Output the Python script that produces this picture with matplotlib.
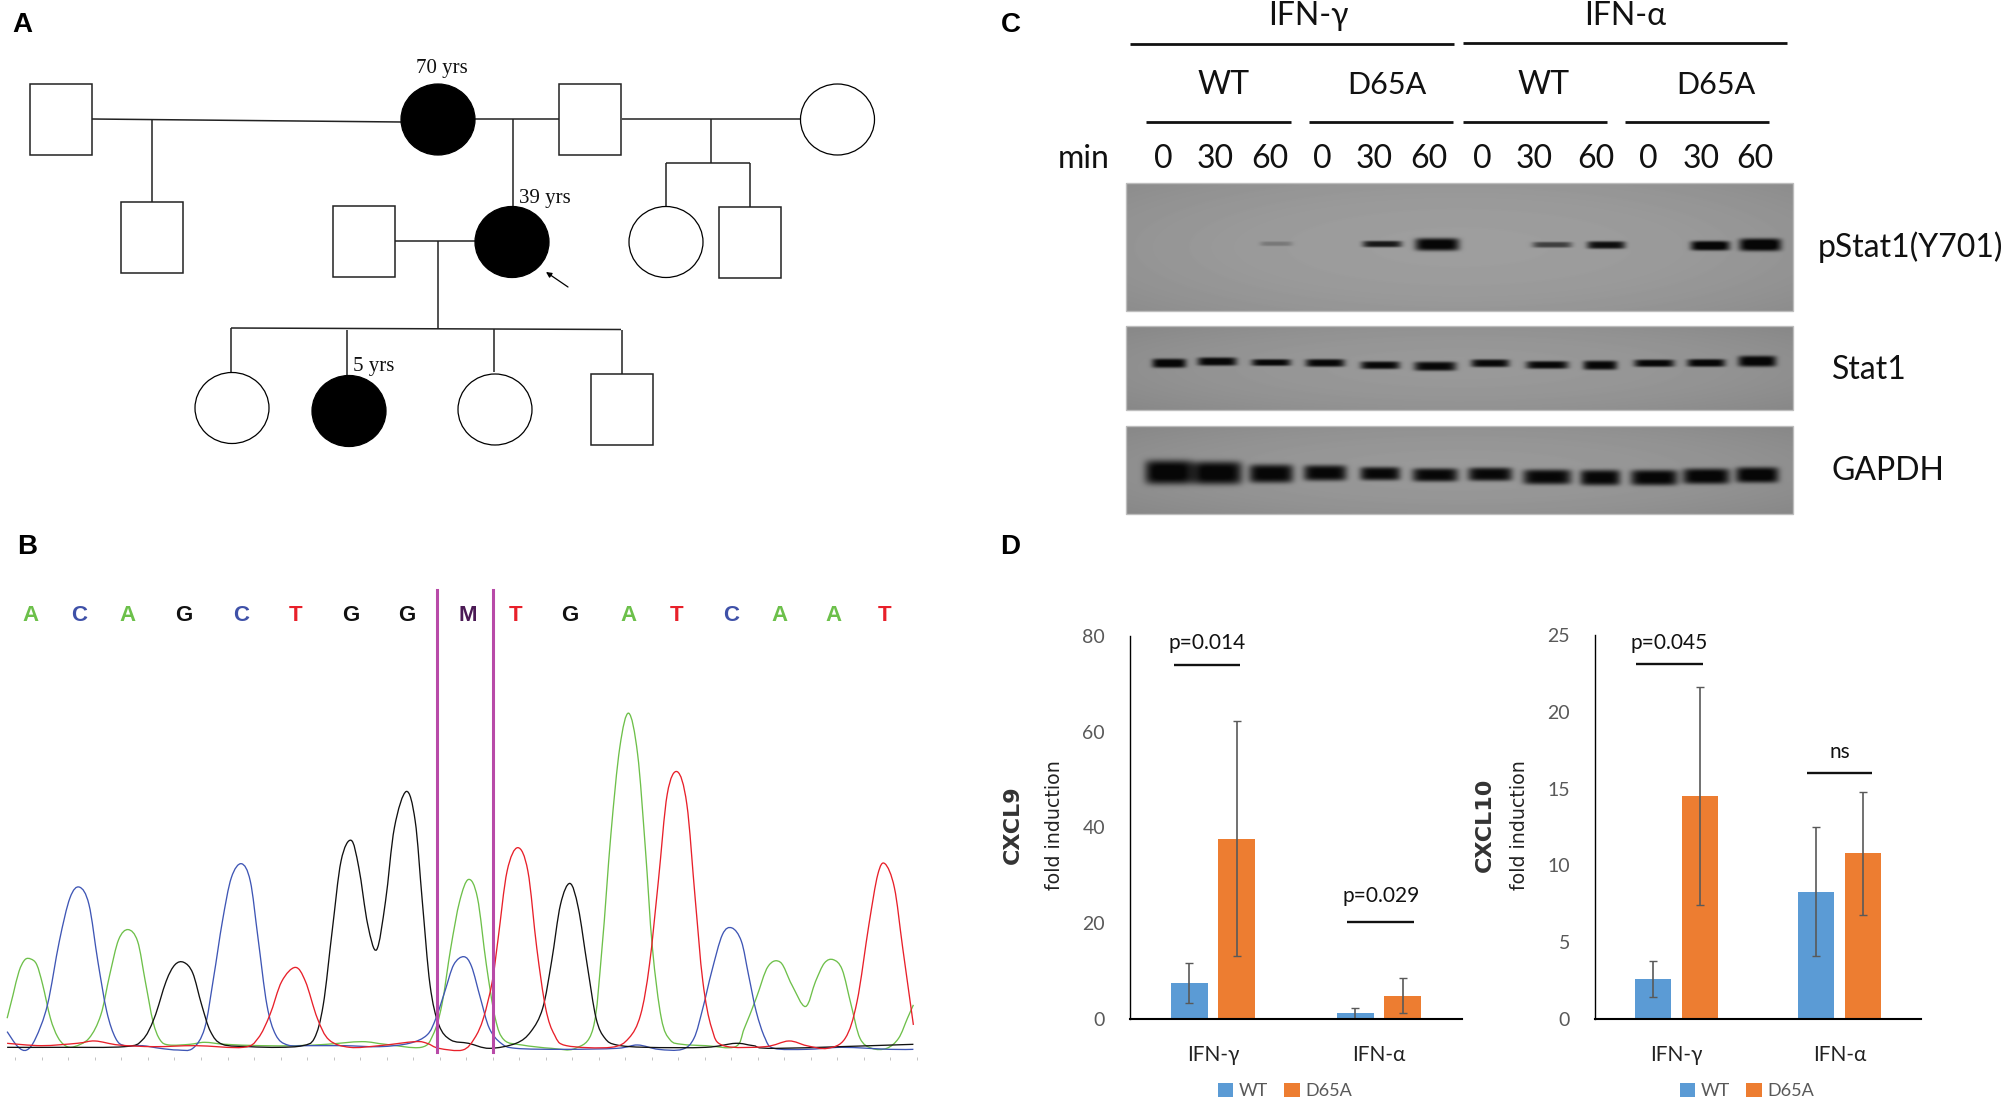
import numpy as np
import matplotlib
matplotlib.use("Agg")
import matplotlib.pyplot as plt
from matplotlib.patches import Rectangle, Ellipse, PathPatch
from matplotlib.path import Path

W, H = 2008, 1103
SANS = ["Lato", "Liberation Serif"]

# Bar chart data (panel D)
treatments = ["IFN-γ", "IFN-α"]
groups = ["WT", "D65A"]
cxcl9_wt = [7.6, 1.2]
cxcl9_d65a = [37.7, 4.9]
cxcl9_wt_err = [4.2, 1.1]
cxcl9_d65a_err = [24.5, 3.65]
cxcl10_wt = [2.6, 8.3]
cxcl10_d65a = [14.5, 10.8]
cxcl10_wt_err = [1.15, 4.2]
cxcl10_d65a_err = [7.1, 4.0]

# Sequencing trace (panel B): scan position, signal
bases = list("ACAGCTGGMTGATCAAT")
base_scan = [52, 133, 215, 310, 407, 498, 592, 685, 788, 870, 961, 1060, 1140, 1232, 1314, 1405, 1491]
green_x = [12, 22, 32, 42, 52, 62, 72, 85, 97, 110, 125, 150, 170, 185, 200, 216, 232, 245, 258, 270, 285, 320, 345,
           380, 440, 500, 550, 610, 650, 710, 730, 745, 760, 775, 790, 805, 820, 835, 850, 880, 930, 970, 1000, 1015,
           1030, 1045, 1060, 1075, 1088, 1100, 1115, 1130, 1150, 1190, 1240, 1255, 1275, 1295, 1316, 1335, 1358, 1375,
           1390, 1405, 1420, 1435, 1450, 1470, 1495, 1515, 1530, 1540]
green_y = [90, 160, 230, 265, 267, 250, 190, 90, 35, 8, 5, 30, 100, 220, 325, 355, 320, 200, 80, 25, 10, 12, 18,
           12, 8, 8, 12, 20, 12, 3, 40, 130, 300, 440, 505, 450, 250, 90, 25, 10, 0, 0, 60, 300,
           640, 900, 1002, 880, 600, 300, 90, 25, 12, 8, 5, 60, 150, 245, 257, 190, 125, 200,
           255, 265, 235, 130, 30, 0, 0, 30, 90, 130]
blue_x = [12, 30, 45, 60, 80, 100, 118, 134, 150, 165, 180, 195, 210, 240, 270, 300, 325, 345, 360, 375, 390, 407,
          422, 435, 450, 465, 485, 520, 580, 640, 690, 720, 735, 750, 765, 782, 795, 810, 825, 845, 870, 950, 1040,
          1075, 1110, 1150, 1170, 1185, 1200, 1218, 1234, 1250, 1262, 1275, 1290, 1305, 1360, 1420, 1500, 1540]
blue_y = [50, 5, -5, 30, 130, 320, 450, 482, 430, 260, 110, 30, 8, 8, 0, -5, 0, 60, 210, 380, 510, 552,
          500, 330, 130, 40, 10, 8, 8, 5, 15, 40, 90, 170, 250, 274, 245, 150, 60, 15, 0, -3, 0,
          10, -3, -3, 30, 120, 230, 340, 360, 320, 220, 110, 30, 0, -3, 3, -3, -3]
black_x = [12, 100, 210, 240, 260, 280, 295, 310, 325, 340, 355, 375, 420, 470, 510, 530, 545, 560, 575, 592, 605,
           620, 635, 650, 665, 685, 700, 712, 725, 740, 760, 790, 825, 870, 895, 915, 930, 945, 961, 975, 990, 1005,
           1020, 1040, 1090, 1190, 1240, 1270, 1310, 1540]
black_y = [3, 3, 5, 25, 90, 200, 250, 257, 225, 130, 50, 12, 5, 3, 8, 30, 130, 350, 560, 622, 540,
           370, 295, 440, 660, 768, 680, 440, 190, 70, 25, 15, 0, 15, 50, 120, 260, 430, 493, 420, 250, 90,
           30, 10, 3, 3, 15, 8, 0, 12]
red_x = [12, 70, 130, 160, 200, 260, 330, 410, 435, 455, 475, 498, 515, 535, 555, 590, 640, 700, 720, 740, 780, 800,
         815, 830, 840, 855, 873, 890, 905, 920, 935, 955, 1030, 1060, 1080, 1095, 1110, 1125, 1142, 1158, 1172, 1185,
         1200, 1220, 1290, 1330, 1360, 1395, 1425, 1445, 1465, 1480, 1492, 1508, 1522, 1540]
red_y = [15, 8, 15, 22, 10, 5, 8, 3, 30, 100, 200, 242, 200, 90, 25, 3, 8, 20, 15, 0, -5, 30,
         90, 200, 330, 530, 600, 530, 300, 120, 40, 8, 3, 30, 100, 250, 500, 760, 827, 730, 450, 200,
         60, 8, 5, 22, 8, 0, 30, 140, 370, 520, 552, 480, 300, 70]

# Blot bands (panel C): lane, row, half width, half height, strength
pstat_x = [1276, 1382, 1437, 1552, 1606, 1710, 1760]
pstat_y = [243.5, 243.8, 244.2, 244.5, 244.8, 245.5, 244.5]
pstat_w = [16, 19.5, 22, 19.5, 19, 19.5, 21]
pstat_h = [2.3, 3.2, 6.3, 2.9, 3.8, 4.8, 6.3]
pstat_s = [0.22, 0.85, 1.0, 0.6, 0.9, 1.0, 1.0]
lane_x = [1169, 1217, 1271, 1325, 1380, 1435, 1490, 1547, 1600, 1654, 1706, 1757]
stat_y = [363, 361.3, 362.3, 362.7, 365, 366, 363, 364.7, 365, 363, 362.7, 361]
stat_w = [17, 19.5, 19.5, 19.5, 19.5, 21, 19, 21, 17, 20, 19, 19]
stat_h = [4.6, 4.2, 3.4, 3.9, 3.9, 4.6, 3.9, 3.9, 4.6, 3.7, 3.9, 5.5]
gapdh_y = [472, 472.7, 473.4, 472.7, 473.4, 474.7, 474, 476.7, 477.4, 477.4, 476, 474.7]
gapdh_w = [24, 24.7, 22, 21.4, 20, 22.7, 22, 24, 20, 23.4, 23.4, 21.4]
gapdh_h = [12, 11.5, 9.2, 7.8, 6.7, 6.7, 6.7, 7.5, 7.8, 7.8, 7.8, 7.8]

# Blot labels
lane_labels = ["0", "30", "60"] * 4
lane_label_x = [1163, 1215, 1270, 1322, 1374, 1429, 1482, 1534, 1596, 1648, 1701, 1755]

fig = plt.figure(figsize=(W / 100, H / 100), dpi=100, facecolor="white")


def px_axes(x0, y0, x1, y1, **kw):
    return fig.add_axes([x0 / W, 1 - y1 / H, (x1 - x0) / W, (y1 - y0) / H], **kw)


# Whole figure canvas, in reference pixels
ov = px_axes(0, 0, W, H)
ov.set_xlim(0, W)
ov.set_ylim(H, 0)
ov.axis("off")
ov.set_zorder(5)

for label, x, y in [("A", 12, 25), ("B", 17, 547), ("C", 1001, 25), ("D", 1000, 547)]:
    ov.text(x, y, label, fontsize=20, fontweight="bold", family="Liberation Sans", va="center", ha="left")

# Panel A - pedigree
squares = [(30, 84), (121, 202), (333.5, 206), (559, 84), (719, 207), (591, 374)]
circles = [(438, 119.5, True), (512, 242, True), (837.5, 119.5, False), (666, 242, False),
           (232, 408, False), (349, 411, True), (495, 409.5, False)]
pedigree_lines = [
    ((92, 401), (119, 122)), ((152, 152), (119.5, 202)), ((475, 559), (119, 119)), ((512.6, 512.6), (119, 207)),
    ((622, 801), (119, 119)), ((711, 711), (119, 163)), ((666, 750), (163, 163)), ((666, 666), (163, 207)),
    ((750, 750), (163, 207)), ((395.5, 475), (241, 241)), ((438, 438), (241, 329)), ((231, 621), (328, 329.5)),
    ((231, 231), (328, 373)), ((347, 347), (330, 375)), ((494, 494), (329, 372)), ((621.7, 621.7), (329.5, 374)),
]
for xs, ys in pedigree_lines:
    ov.plot(xs, ys, color="#222222", lw=1.1, solid_capstyle="butt")
for x, y in squares:
    ov.add_patch(Rectangle((x, y), 62, 71, fc="white", ec="#222222", lw=1.1, zorder=3))
for x, y, filled in circles:
    ov.add_patch(Ellipse((x, y), 74, 71, fc="black" if filled else "white", ec="black", lw=0.9, zorder=3))
ov.annotate("", xy=(546, 272), xytext=(568, 287),
            arrowprops=dict(arrowstyle="-|>", color="black", lw=0.9, mutation_scale=8, shrinkA=0, shrinkB=0))
for txt, x, y in [("70 yrs", 442, 69), ("39 yrs", 545, 198), ("5 yrs", 374, 366)]:
    ov.text(x, y, txt, fontsize=15, family="Liberation Serif", ha="center", va="center", color="#111111")


# Panel B - chromatogram
def trace(ax, xs, ys, color):
    # smooth curve through the read points
    p = np.column_stack([xs, ys]).astype(float)
    verts = [p[0]]
    codes = [Path.MOVETO]
    for i in range(len(p) - 1):
        before = p[max(i - 1, 0)]
        after = p[min(i + 2, len(p) - 1)]
        verts += [p[i] + (p[i + 1] - before) / 6, p[i + 1] - (after - p[i]) / 6, p[i + 1]]
        codes += [Path.CURVE4] * 3
    ax.add_patch(PathPatch(Path(verts, codes), fc="none", ec=color, lw=0.95))


axb = px_axes(0, 560, 930, 1056.7)
axb.set_xlim(0, 1568)
axb.set_ylim(-25, 1460)
axb.patch.set_alpha(0)
for s in axb.spines.values():
    s.set_visible(False)
axb.set_yticks([])
axb.set_xticks(base_scan[0] / 2 + np.arange(35) * 44.7)
axb.tick_params(axis="x", length=2, width=0.5, color="#aaaaaa", labelbottom=False)
trace(axb, green_x, green_y, "#6ec04a")
trace(axb, blue_x, blue_y, "#3f56b5")
trace(axb, black_x, black_y, "#111111")
trace(axb, red_x, red_y, "#e8202a")
base_colors = {"A": "#6cc04a", "C": "#3f51a8", "G": "#111111", "T": "#e8202a", "M": "#4b1a55"}
for b, sx in zip(bases, base_scan):
    axb.text(sx, 1294, b, color=base_colors[b], fontsize=16, fontweight="bold", family="Liberation Sans",
             ha="center", va="center")
for sx in [736, 831]:
    axb.plot([sx, sx], [-12, 1370], color="#b84aa8", lw=2.2)


# Panel C - western blots
def blot(box, bg, xs, ys, ws, hs, strengths):
    x0, y0, x1, y1 = box
    gx, gy = np.meshgrid(np.arange(x0, x1, 0.5), np.arange(y0, y1, 0.5))
    img = np.full(gx.shape, bg, dtype=float)
    # slightly darker towards the edges of the membrane
    img -= 0.04 * ((gx - (x0 + x1) / 2) / (x1 - x0) * 2) ** 2
    img -= 0.03 * ((gy - (y0 + y1) / 2) / (y1 - y0) * 2) ** 2
    for x, y, w, h, s in zip(xs, ys, ws, hs, strengths):
        img -= bg * s * np.exp(-((gx - x) / w) ** 6 - ((gy - y) / h) ** 4)
    ax = px_axes(x0, y0, x1, y1)
    ax.imshow(np.clip(img, 0.03, 1), cmap="gray", vmin=0, vmax=1, aspect="auto", interpolation="bilinear")
    ax.axis("off")
    ov.add_patch(Rectangle((x0, y0), x1 - x0, y1 - y0, fc="none", ec="#bdbdbd", lw=1))


blot((1126, 183, 1793, 311), 0.62, pstat_x, pstat_y, pstat_w, pstat_h, pstat_s)
blot((1126, 326, 1793, 410), 0.60, lane_x, stat_y, stat_w, stat_h, [0.95] * 12)
blot((1126, 426, 1793, 514), 0.60, lane_x, gapdh_y, gapdh_w, gapdh_h, [0.95] * 12)

for x0, x1, y in [(1130, 1454, 43.5), (1463, 1787, 42.5), (1146, 1291, 122),
                  (1309, 1453, 122), (1463, 1607, 122), (1625, 1769, 122)]:
    ov.plot([x0, x1], [y, y], color="#111111", lw=2.0, solid_capstyle="butt")
for txt, x, y, size in [("IFN-γ", 1308, 16, 23), ("IFN-α", 1625, 16, 23), ("WT", 1224, 85, 23), ("D65A", 1387, 85, 22),
                        ("WT", 1544, 85, 23), ("D65A", 1716, 85, 22), ("min", 1084, 159, 23)]:
    ov.text(x, y, txt, fontsize=size, family=SANS, ha="center", va="center", color="#111111")
for txt, x in zip(lane_labels, lane_label_x):
    ov.text(x, 159, txt, fontsize=23, family=SANS, ha="center", va="center", color="#111111")
for txt, x, y in [("pStat1(Y701)", 1818, 247), ("Stat1", 1832, 370), ("GAPDH", 1832, 471)]:
    ov.text(x, y, txt, fontsize=23, family=SANS, ha="left", va="center", color="#111111")


# Panel D - qPCR bars
def bars(box, title, title_x, fold_x, ymax, yticks, wt, d65a, wt_err, d65a_err, marks, legend_x):
    ax = px_axes(*box)
    ax.patch.set_alpha(0)
    x = np.arange(len(treatments))
    ax.bar(x - 0.143, wt, 0.224, color="#5b9bd5", label=groups[0])
    ax.bar(x + 0.143, d65a, 0.224, color="#ed7d31", label=groups[1])
    ax.errorbar(x - 0.143, wt, yerr=wt_err, fmt="none", ecolor="#595959", elinewidth=1.2, capsize=3.2, capthick=1)
    ax.errorbar(x + 0.143, d65a, yerr=d65a_err, fmt="none", ecolor="#595959", elinewidth=1.2, capsize=3.2, capthick=1)
    ax.set_xlim(-0.5, 1.5)
    ax.set_ylim(0, ymax)
    ax.set_yticks(yticks)
    ax.set_xticks(x)
    ax.set_xticklabels(treatments, fontsize=15, family=SANS, color="#222222")
    ax.tick_params(axis="x", length=0, pad=19)
    ax.tick_params(axis="y", length=0, pad=18, labelcolor="#595959")
    for lab in ax.get_yticklabels():
        lab.set_fontsize(14)
        lab.set_family(SANS)
    ax.spines["top"].set_visible(False)
    ax.spines["right"].set_visible(False)
    ax.spines["left"].set_linewidth(1.0)
    ax.spines["bottom"].set_linewidth(1.5)
    for label, x0, x1, y_line, y_text in marks:
        ax.plot([x0, x1], [y_line, y_line], color="#111111", lw=1.7, clip_on=False, solid_capstyle="butt")
        ax.text((x0 + x1) / 2, y_text, label, fontsize=15, family=SANS, ha="center", va="center", color="#111111")
    ov.text(title_x, 825, title, rotation=90, fontsize=16, fontweight="bold", family="DejaVu Sans",
            ha="center", va="center", color="#333333")
    ov.text(fold_x, 825, "fold induction", rotation=90, fontsize=13.7, family="DejaVu Sans",
            ha="center", va="center", color="#222222")
    ax.legend(loc="center", bbox_to_anchor=(legend_x / W, 1 - 1091 / H), bbox_transform=fig.transFigure, ncol=2,
              frameon=False, handlelength=0.85, handleheight=0.85, handletextpad=0.3, columnspacing=0.9,
              prop={"family": SANS, "size": 13}, labelcolor="#595959")


bars((1130, 636, 1462, 1019), "CXCL9", 1013, 1055, 80, [0, 20, 40, 60, 80],
     cxcl9_wt, cxcl9_d65a, cxcl9_wt_err, cxcl9_d65a_err,
     [("p=0.014", -0.235, 0.163, 74, 78.5), ("p=0.029", 0.81, 1.21, 20.3, 25.7)], 1285)
bars((1595, 635, 1921, 1019), "CXCL10", 1485, 1520, 25, [0, 5, 10, 15, 20, 25],
     cxcl10_wt, cxcl10_d65a, cxcl10_wt_err, cxcl10_d65a_err,
     [("p=0.045", -0.25, 0.16, 23.1, 24.5), ("ns", 0.8, 1.2, 16, 17.4)], 1747)

fig.savefig("out.png", dpi=100)
